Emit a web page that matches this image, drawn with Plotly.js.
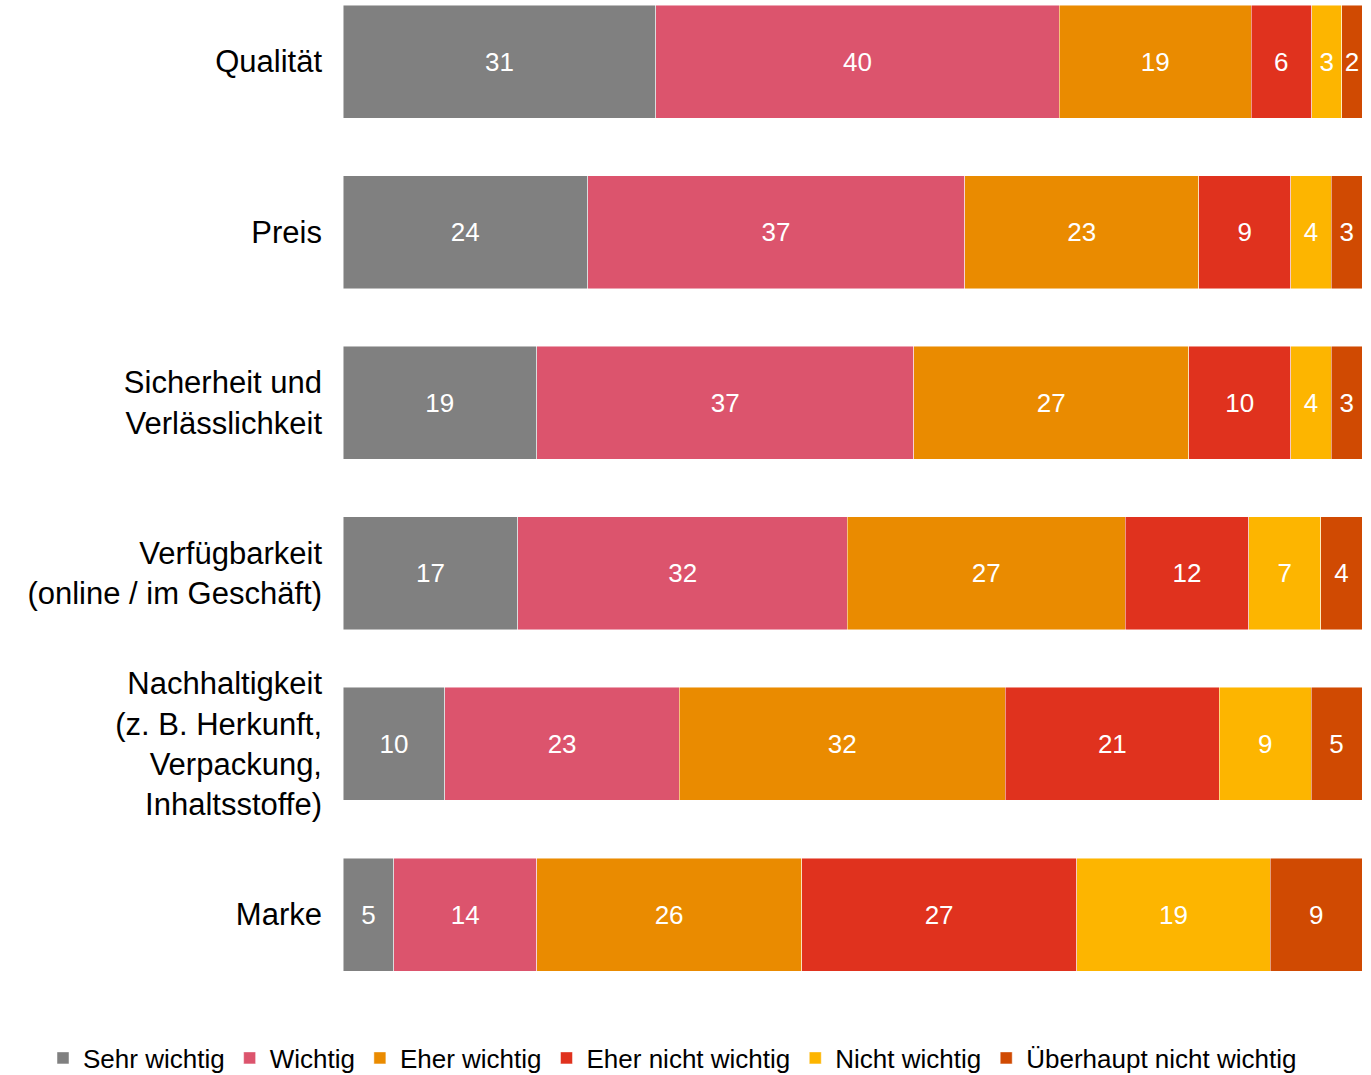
<!DOCTYPE html>
<html>
<head>
<meta charset="utf-8">
<script src="https://cdn.plot.ly/plotly-3.0.1.min.js"></script>
<style>html,body{margin:0;padding:0;background:#fff;}#chart{width:1371px;height:1075px;}</style>
</head>
<body>
<div id="chart"></div>
<script>
const categories = ["Qualität", "Preis", "Sicherheit und<br>Verlässlichkeit", "Verfügbarkeit<br>(online / im Geschäft)", "Nachhaltigkeit<br>(z. B. Herkunft,<br>Verpackung,<br>Inhaltsstoffe)", "Marke"];
const seriesNames = ["Sehr wichtig", "Wichtig", "Eher wichtig", "Eher nicht wichtig", "Nicht wichtig", "Überhaupt nicht wichtig"];
const sehrWichtig = [31, 24, 19, 17, 10, 5];
const wichtig = [40, 37, 37, 32, 23, 14];
const eherWichtig = [19, 23, 27, 27, 32, 26];
const eherNichtWichtig = [6, 9, 10, 12, 21, 27];
const nichtWichtig = [3, 4, 4, 7, 9, 19];
const ueberhauptNichtWichtig = [2, 3, 3, 4, 5, 9];
const seriesValues = [sehrWichtig, wichtig, eherWichtig, eherNichtWichtig, nichtWichtig, ueberhauptNichtWichtig];
const colors = ["#808080", "#DC546D", "#EA8B00", "#E0321E", "#FDB500", "#D04A02"];

const FONT = "Liberation Sans, Arial, sans-serif";
const traces = seriesNames.map((name, i) => ({
  type: "bar",
  orientation: "h",
  name: name,
  y: categories,
  x: seriesValues[i],
  text: seriesValues[i].map(String),
  texttemplate: "%{text}",
  textposition: "inside",
  insidetextanchor: "middle",
  textangle: 0,
  constraintext: "none",
  textfont: {color: "#ffffff", size: 26, family: FONT},
  marker: {color: colors[i], line: {color: "rgba(255,255,255,0.6)", width: 0.8}},
  hoverinfo: "skip"
}));

const layout = {
  width: 1371,
  height: 1075,
  barmode: "stack",
  barnorm: "percent",
  bargap: 0.3376,
  margin: {l: 343, r: 9, t: 0, b: 75, pad: 0, autoexpand: false},
  paper_bgcolor: "#ffffff",
  plot_bgcolor: "#ffffff",
  font: {family: FONT, color: "#000000"},
  uniformtext: {mode: "show", minsize: 26},
  showlegend: true,
  legend: {
    orientation: "h",
    x: -0.2944,
    xanchor: "left",
    y: -0.058,
    yanchor: "middle",
    traceorder: "normal",
    font: {size: 26, family: FONT, color: "#000000"},
    itemwidth: 30
  },
  xaxis: {
    range: [0, 100],
    showgrid: false,
    zeroline: false,
    showticklabels: false,
    showline: false,
    fixedrange: true
  },
  yaxis: {
    type: "category",
    range: [5.501, -0.3605],
    showgrid: false,
    zeroline: false,
    showline: false,
    ticks: "",
    ticklabelstandoff: 20,
    tickfont: {size: 31, family: FONT, color: "#000000"},
    fixedrange: true
  }
};

Plotly.newPlot("chart", traces, layout, {displayModeBar: false, staticPlot: true});
</script>
</body>
</html>
